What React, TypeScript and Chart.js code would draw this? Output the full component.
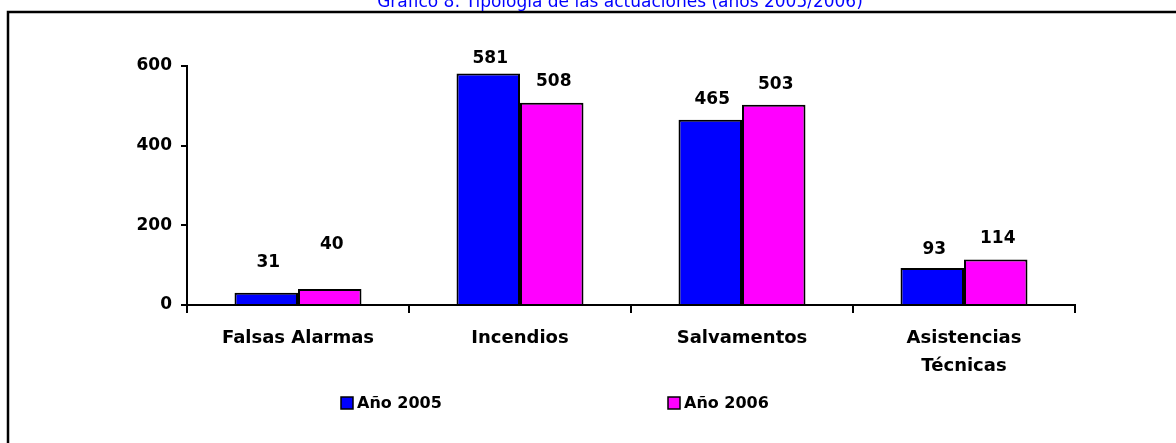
import React, { useEffect, useRef } from "react";
import { Chart, registerables } from "chart.js";

Chart.register(...registerables);

const title = "Gráfico 8: Tipología de las actuaciones (años 2005/2006)";
const categories = [["Falsas Alarmas"], ["Incendios"], ["Salvamentos"], ["Asistencias", "Técnicas"]];
const seriesNames = ["Año 2005", "Año 2006"];
const values2005 = [31, 581, 465, 93];
const values2006 = [40, 508, 503, 114];
const yTicks = [0, 200, 400, 600];

const seriesColors = ["#0000FF", "#FF00FF"];
const labelLift = [
  [30, 15, 20, 18],
  [44, 21, 20, 21],
];
const legendX = [341, 668];
const FONT = "'DejaVu Sans', 'Liberation Sans', Arial, sans-serif";

const decor = {
  id: "decor",
  beforeDraw(chart: any) {
    const ctx = chart.ctx;
    ctx.save();
    ctx.fillStyle = "#fff";
    ctx.fillRect(0, 0, chart.width, chart.height);
    ctx.strokeStyle = "#000";
    ctx.lineWidth = 2.5;
    ctx.beginPath();
    ctx.moveTo(8, chart.height + 2);
    ctx.lineTo(8, 12);
    ctx.lineTo(chart.width + 2, 12);
    ctx.stroke();
    ctx.fillStyle = "#0000FF";
    ctx.font = `17px ${FONT}`;
    ctx.textAlign = "center";
    ctx.textBaseline = "alphabetic";
    ctx.fillText(title, 620, 7);
    ctx.restore();
  },
  afterDatasetsDraw(chart: any) {
    const ctx = chart.ctx;
    ctx.save();
    ctx.fillStyle = "#000";
    ctx.font = `bold 17px ${FONT}`;
    ctx.textAlign = "center";
    ctx.textBaseline = "middle";
    chart.data.datasets.forEach((ds: any, di: number) => {
      const meta = chart.getDatasetMeta(di);
      meta.data.forEach((bar: any, i: number) => {
        ctx.fillText(String(ds.data[i]), bar.x + 2, bar.y - labelLift[di][i]);
      });
    });
    // legend
    ctx.font = `bold 16px ${FONT}`;
    chart.data.datasets.forEach((ds: any, di: number) => {
      const x = legendX[di];
      ctx.fillStyle = ds.backgroundColor;
      ctx.fillRect(x, 397, 12, 12);
      ctx.strokeStyle = "#000";
      ctx.lineWidth = 1.5;
      ctx.strokeRect(x, 397, 12, 12);
      ctx.fillStyle = "#000";
      ctx.textAlign = "left";
      ctx.fillText(ds.label, x + 16, 404);
    });
    ctx.restore();
  },
};

export default function App() {
  const ref = useRef<HTMLCanvasElement>(null);
  useEffect(() => {
    if (!ref.current) return;
    const chart = new Chart(ref.current, {
      type: "bar",
      data: {
        labels: categories as any,
        datasets: [
          {
            label: seriesNames[0],
            data: values2005,
            backgroundColor: seriesColors[0],
            borderColor: "#000",
            borderWidth: 2,
            categoryPercentage: 0.572,
            barPercentage: 1,
          },
          {
            label: seriesNames[1],
            data: values2006,
            backgroundColor: seriesColors[1],
            borderColor: "#000",
            borderWidth: 2,
            categoryPercentage: 0.572,
            barPercentage: 1,
          },
        ],
      },
      options: {
        responsive: false,
        animation: false,
        layout: { padding: { top: 66, right: 101, left: 0, bottom: 0 } },
        plugins: {
          legend: { display: false },
          tooltip: { enabled: false },
          title: { display: false },
        },
        scales: {
          x: {
            offset: true,
            grid: {
              offset: true,
              drawOnChartArea: false,
              drawTicks: true,
              tickLength: 8,
              color: "#000",
              lineWidth: 2,
            },
            border: { color: "#000", width: 2 },
            ticks: {
              color: "#000",
              font: { family: FONT, size: 18, weight: "bold", lineHeight: 1.55 },
              padding: 11,
              maxRotation: 0,
              autoSkip: false,
            },
            afterFit: (s: any) => {
              s.height = 138;
            },
          },
          y: {
            min: 0,
            max: 600,
            grid: {
              drawOnChartArea: false,
              tickLength: 6,
              color: "#000",
              lineWidth: 2,
            },
            border: { color: "#000", width: 2 },
            ticks: {
              color: "#000",
              font: { family: FONT, size: 17, weight: "bold" },
              padding: 9,
            },
            afterBuildTicks: (s: any) => {
              s.ticks = yTicks.map((v) => ({ value: v }));
            },
            afterFit: (s: any) => {
              s.width = 187;
            },
          },
        },
      },
      plugins: [decor],
    } as any);
    return () => chart.destroy();
  }, []);
  return (
    <div style={{ position: "fixed", left: 0, top: 0, width: 1176, height: 443, background: "#fff" }}>
      <canvas ref={ref} width={1176} height={443} style={{ width: 1176, height: 443, display: "block" }} />
    </div>
  );
}
